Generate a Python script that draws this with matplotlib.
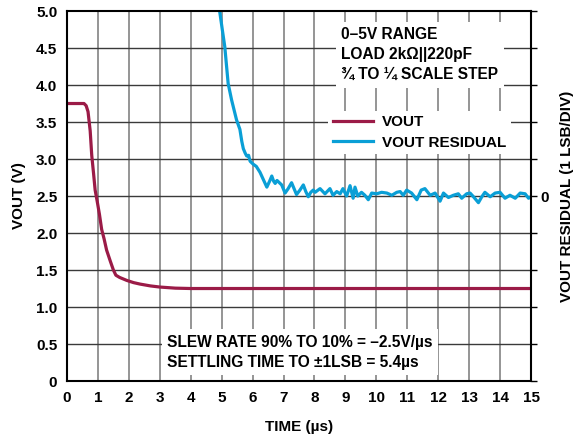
import matplotlib
matplotlib.use("Agg")
import matplotlib.pyplot as plt
import numpy as np

# --- data: DAC output step and its residual (settling) ---
t_vout = [0, 0.3, 0.55, 0.62, 0.68, 0.75, 0.8, 0.86, 0.91, 0.98, 1.05, 1.12, 1.2,
          1.28, 1.4, 1.5, 1.58, 1.7, 1.93, 2.15, 2.36, 2.7, 3.0, 3.5, 4.0, 15]
vout = [3.75, 3.75, 3.75, 3.72, 3.64, 3.38, 3.05, 2.8, 2.58, 2.42, 2.25, 2.05, 1.92,
        1.77, 1.62, 1.5, 1.43, 1.4, 1.36, 1.33, 1.31, 1.285, 1.27, 1.255, 1.25, 1.25]

t_res = [4.90, 5.02, 5.10, 5.21, 5.32, 5.48, 5.59, 5.65, 5.70, 5.76, 5.81, 5.87,
         5.92, 6.02, 6.12, 6.24, 6.35, 6.46, 6.55, 6.62, 6.68, 6.73, 6.79, 6.84,
         6.94, 7.05, 7.15, 7.26, 7.34, 7.42, 7.53, 7.64, 7.72, 7.80, 7.88, 7.96,
         8.02, 8.18, 8.34, 8.50, 8.60, 8.72, 8.83, 8.92, 9.04, 9.15, 9.25, 9.31,
         9.40, 9.52, 9.63, 9.74, 9.85, 10.01, 10.17, 10.34, 10.50, 10.66, 10.77,
         10.87, 10.98, 11.14, 11.31, 11.45, 11.57, 11.74, 11.90, 12.06, 12.17,
         12.33, 12.49, 12.65, 12.76, 12.92, 13.03, 13.14, 13.30, 13.41, 13.51,
         13.68, 13.84, 14.00, 14.16, 14.32, 14.49, 14.65, 14.81, 14.92, 15.00]
v_res = [5.10, 4.75, 4.52, 4.02, 3.80, 3.53, 3.40, 3.24, 3.14, 3.08, 3.04, 3.05,
         2.97, 2.93, 2.90, 2.82, 2.72, 2.62, 2.70, 2.77, 2.70, 2.67, 2.71, 2.69,
         2.65, 2.54, 2.60, 2.68, 2.60, 2.52, 2.58, 2.65, 2.56, 2.49, 2.55, 2.58,
         2.55, 2.60, 2.53, 2.60, 2.51, 2.56, 2.53, 2.60, 2.50, 2.64, 2.47, 2.62,
         2.50, 2.55, 2.51, 2.45, 2.54, 2.53, 2.55, 2.54, 2.51, 2.55, 2.56,
         2.51, 2.58, 2.54, 2.45, 2.58, 2.60, 2.51, 2.54, 2.43, 2.54,
         2.48, 2.51, 2.53, 2.47, 2.53, 2.54, 2.49, 2.41, 2.49, 2.55,
         2.49, 2.54, 2.55, 2.47, 2.51, 2.47, 2.54, 2.53, 2.47, 2.49]

x_ticks = list(range(0, 16))
y_ticks = [0, 0.5, 1.0, 1.5, 2.0, 2.5, 3.0, 3.5, 4.0, 4.5, 5.0]
y_ticklabels = ["0", "0.5", "1.0", "1.5", "2.0", "2.5", "3.0", "3.5", "4.0", "4.5", "5.0"]
residual_zero = 2.5

RED = "#9b1b47"
BLUE = "#0a9fd6"
FS = 11

plt.rcParams["font.family"] = ["Liberation Sans", "DejaVu Sans"]
plt.rcParams["font.weight"] = "bold"
plt.rcParams["font.size"] = FS

fig = plt.figure(figsize=(5.78, 4.37), dpi=100)
ax = fig.add_axes([0.1159, 0.1281, 0.8028, 0.8467])

ax.set_xlim(0, 15)
ax.set_ylim(0, 5)
ax.set_axisbelow(True)

# vertical grid is grey, horizontal grid is dark
for x in x_ticks[1:-1]:
    ax.axvline(x, color="#8c8c8c", lw=1.3, zorder=0)
for y in y_ticks[1:-1]:
    ax.axhline(y, color="#3a3a3a", lw=1.0, zorder=0)

ax.plot(t_vout, vout, color=RED, lw=2.3, label="VOUT", zorder=2,
        solid_joinstyle="round")
ax.plot(t_res, v_res, color=BLUE, lw=2.3, label="VOUT RESIDUAL", zorder=2,
        solid_joinstyle="round")

ax.set_xticks(x_ticks)
ax.set_yticks(y_ticks)
ax.set_yticklabels(y_ticklabels)
ax.tick_params(axis="both", length=0, pad=7, labelsize=FS)
for lab in ax.get_xticklabels() + ax.get_yticklabels():
    lab.set_fontweight("bold")

for side in ["left", "bottom", "top", "right"]:
    ax.spines[side].set_linewidth(1.5)
    ax.spines[side].set_color("black")

ax.set_xlabel("TIME (µs)", fontweight="bold", labelpad=11)
ax.set_ylabel("VOUT (V)", fontweight="bold", labelpad=7)

# residual axis on the right: one LSB per division, zero at mid-scale
ax2 = ax.twinx()
ax2.set_ylim(0, 5)
ax2.set_yticks(y_ticks)
ax2.set_yticklabels(["0" if v == residual_zero else "" for v in y_ticks])
ax2.tick_params(axis="y", direction="out", length=4.5, width=1.0, pad=2, labelsize=FS)
for lab in ax2.get_yticklabels():
    lab.set_fontweight("bold")
for side in ax2.spines:
    ax2.spines[side].set_visible(False)
ax2.set_ylabel("VOUT RESIDUAL (1 LSB/DIV)", fontweight="bold", labelpad=8)

box = dict(boxstyle="square,pad=0.35", facecolor="white", edgecolor="none")
ax.text(8.87, 4.78, "0–5V RANGE\nLOAD 2kΩ||220pF\n¾ TO ¼ SCALE STEP",
        ha="left", va="top", fontweight="bold", fontsize=11.2, linespacing=1.42,
        bbox=box, zorder=3)
ax.text(3.24, 0.155, "SLEW RATE 90% TO 10% = –2.5V/µs\nSETTLING TIME TO ±1LSB = 5.4µs",
        ha="left", va="bottom", fontweight="bold", fontsize=11.2, linespacing=1.4,
        bbox=box, zorder=3)

leg = ax.legend(loc="upper left", bbox_to_anchor=(0.547, 0.751), frameon=True,
                fancybox=False, framealpha=1.0, edgecolor="none",
                handlelength=2.6, handletextpad=0.6, labelspacing=0.42,
                borderpad=0.3, prop={"weight": "bold", "size": FS})
leg.set_zorder(4)

fig.savefig("out.png", dpi=100)
